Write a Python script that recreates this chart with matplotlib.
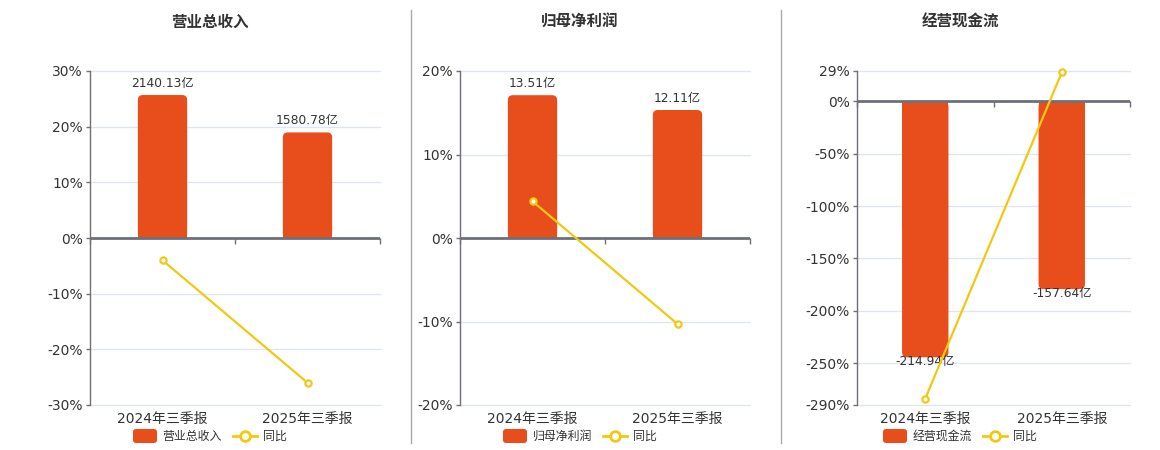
import matplotlib
matplotlib.use('Agg')
import matplotlib.pyplot as plt
from matplotlib.patches import FancyBboxPatch, Rectangle

plt.rcParams['font.family'] = ['DejaVu Sans', 'Noto Sans CJK SC']

# ---------------- data ----------------
categories = ['2024年三季报', '2025年三季报']
titles = ['营业总收入', '归母净利润', '经营现金流']
series_names = ['营业总收入', '归母净利润', '经营现金流']
yoy_name = '同比'

revenue = [2140.13, 1580.78]
revenue_labels = ['2140.13亿', '1580.78亿']
revenue_yoy = [-4.0, -26.0]

profit = [13.51, 12.11]
profit_labels = ['13.51亿', '12.11亿']
profit_yoy = [4.4, -10.3]

cashflow = [-214.94, -157.64]
cashflow_labels = ['-214.94亿', '-157.64亿']
cashflow_yoy = [-284.0, 27.6]

pct_ticks_1 = [-30, -20, -10, 0, 10, 20, 30]
pct_ticks_2 = [-20, -10, 0, 10, 20]
pct_ticks_3 = [-290, -250, -200, -150, -100, -50, 0, 29]

# ---------------- style ----------------
W, H = 1160, 450
BAR_C = '#E84D1C'
LINE_C = '#F2C811'
AXIS_C = '#6E7079'
GRID_C = '#E0E6F1'
TEXT_C = '#333333'

panels = [
    dict(l=90, r=380, t=71, b=405, cx=210, bars=revenue, labels=revenue_labels,
         yoy=revenue_yoy, ticks=pct_ticks_1, bar_scale=2500 / 30, title=titles[0], name=series_names[0]),
    dict(l=460, r=750, t=71, b=405, cx=580, bars=profit, labels=profit_labels,
         yoy=profit_yoy, ticks=pct_ticks_2, bar_scale=15.8 / 20, title=titles[1], name=series_names[1]),
    dict(l=857, r=1130, t=71, b=405, cx=960, bars=cashflow, labels=cashflow_labels,
         yoy=cashflow_yoy, ticks=pct_ticks_3, bar_scale=255 / 290, title=titles[2], name=series_names[2]),
]

fig = plt.figure(figsize=(W / 100, H / 100), dpi=100)
fig.patch.set_facecolor('white')

PX = 72 / 100  # points per pixel

for p in panels:
    rect = [p['l'] / W, (H - p['b']) / H, (p['r'] - p['l']) / W, (p['b'] - p['t']) / H]
    ax = fig.add_axes(rect)
    ymin, ymax = min(p['ticks']), max(p['ticks'])
    ax.set_xlim(-0.5, 1.5)
    ax.set_ylim(ymin, ymax)
    ax.set_yticks(p['ticks'])
    ax.set_yticklabels([f'{t}%' for t in p['ticks']])
    ax.set_xticks(range(len(categories)))
    ax.set_xticklabels(categories)
    ax.tick_params(axis='x', length=0, pad=5, labelsize=10, labelcolor=TEXT_C)
    ax.tick_params(axis='y', length=3, width=1, color=AXIS_C, pad=2, labelsize=10, labelcolor=TEXT_C)
    for s in ['top', 'right', 'bottom']:
        ax.spines[s].set_visible(False)
    ax.spines['left'].set_color(AXIS_C)
    ax.spines['left'].set_linewidth(1)
    for t in p['ticks']:
        ax.axhline(t, color=GRID_C, lw=1, zorder=0, clip_on=False)

    # bar layer
    axb = ax.twinx()
    axb.set_ylim(ymin * p['bar_scale'], ymax * p['bar_scale'])
    axb.set_xlim(-0.5, 1.5)
    axb.axis('off')
    bars = axb.bar(range(len(categories)), p['bars'], width=0.34, color=BAR_C)
    pw = p['r'] - p['l']
    ph = p['b'] - p['t']
    x_per_px = 2.0 / pw
    y_per_px = (ymax - ymin) * p['bar_scale'] / ph
    rsize = 5 * x_per_px
    for b, lab, v in zip(bars, p['labels'], p['bars']):
        b.set_visible(False)
        x, y0, w, h = b.get_x(), b.get_y(), b.get_width(), b.get_height()
        y_lo = min(y0, y0 + h)
        hh = abs(h)
        fb = FancyBboxPatch((x, y_lo), w, hh, boxstyle=f'round,pad=0,rounding_size={rsize}',
                            mutation_aspect=y_per_px / x_per_px, fc=BAR_C, ec='none', zorder=2)
        axb.add_patch(fb)
        if v >= 0:
            sq = Rectangle((x, 0), w, hh / 2, fc=BAR_C, ec='none', zorder=2)
            axb.add_patch(sq)
            axb.annotate(lab, (x + w / 2, v), xytext=(0, 5 * PX), textcoords='offset points',
                         ha='center', va='bottom', fontsize=8.8, color=TEXT_C, zorder=5)
        else:
            sq = Rectangle((x, -hh / 2), w, hh / 2, fc=BAR_C, ec='none', zorder=2)
            axb.add_patch(sq)
            axb.annotate(lab, (x + w / 2, v), xytext=(0, -4 * PX), textcoords='offset points',
                         ha='center', va='center', fontsize=8.8, color=TEXT_C, zorder=5)

    # line layer
    axl = ax.twinx()
    axl.set_ylim(ymin, ymax)
    axl.set_xlim(-0.5, 1.5)
    axl.axis('off')
    axl.axhline(0, color=AXIS_C, lw=2, zorder=1)
    axl.plot([-0.5, 0.5, 1.5], [0, 0, 0], ls='none', marker=3, ms=4,
             mew=1, color=AXIS_C, zorder=1, clip_on=False)
    axl.plot(range(len(categories)), p['yoy'], color=LINE_C, lw=1.6, marker='o', ms=4.5,
             mfc='white', mec=LINE_C, mew=1.6, zorder=3, clip_on=False)

# overlay: titles, separators, legends
ov = fig.add_axes([0, 0, 1, 1])
ov.set_xlim(0, W)
ov.set_ylim(H, 0)
ov.axis('off')
for xs in (410.5, 780.5):
    ov.plot([xs, xs], [10, 443], color='#AAAAAA', lw=1)
for p in panels:
    cx = p['cx']
    ov.text(cx, 22, p['title'], ha='center', va='center', fontsize=11.2, fontweight='bold', color=TEXT_C)
    ov.add_patch(FancyBboxPatch((cx - 77, 429), 24, 14, boxstyle='round,pad=0,rounding_size=3',
                                fc=BAR_C, ec='none'))
    ov.text(cx - 47.5, 436.5, p['name'], ha='left', va='center', fontsize=8.6, color=TEXT_C)
    ov.plot([cx + 23, cx + 47], [436, 436], color=LINE_C, lw=2)
    ov.plot([cx + 35], [436], marker='o', ms=7, mfc='white', mec=LINE_C, mew=2)
    ov.text(cx + 53, 436.5, yoy_name, ha='left', va='center', fontsize=8.6, color=TEXT_C)

fig.savefig('out.png', dpi=100, facecolor='white')
